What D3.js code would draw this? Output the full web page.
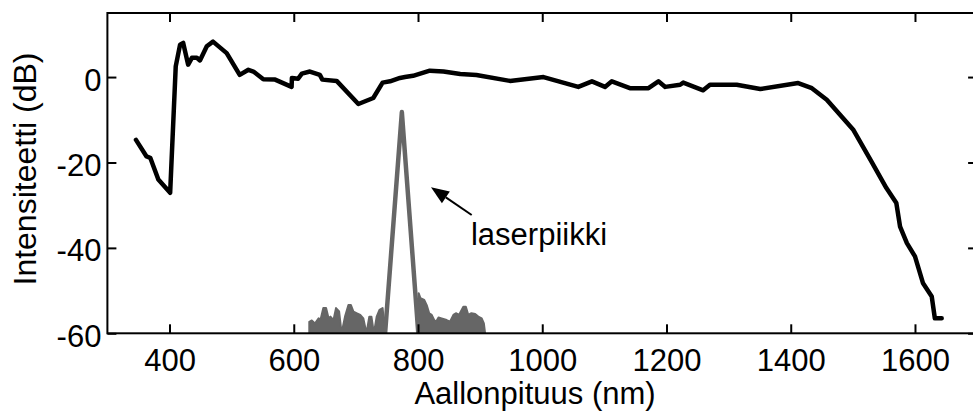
<!DOCTYPE html>
<html>
<head>
<meta charset="utf-8">
<script src="https://cdn.jsdelivr.net/npm/d3@7"></script>
<style>
  html, body { margin: 0; padding: 0; background: #fff; }
  svg { display: block; }
  text { font-family: "Liberation Sans", Arial, Helvetica, sans-serif; fill: #000; }
</style>
</head>
<body>
<svg id="chart" width="973" height="412"></svg>
<script>
// ---- data ----
const xTicks = [400, 600, 800, 1000, 1200, 1400, 1600];
const yTicks = [-60, -40, -20, 0];

// broadband (black) spectrum
const spectrumWl = [346, 363, 369, 382, 401, 410, 417, 422, 430, 436, 444, 449, 460, 470, 492, 513, 527, 535, 551, 570, 596.5, 597, 607, 613, 626, 642, 646, 669, 704, 728, 743, 755, 771, 779, 792, 819, 841, 868, 894, 948, 1002, 1058, 1080, 1101, 1112, 1141, 1171, 1187, 1198, 1222, 1227, 1259, 1270, 1313, 1351, 1412, 1434, 1458, 1501, 1530, 1554, 1570, 1576, 1587, 1600, 1613, 1627, 1632, 1643];
const spectrumDb = [-14.7, -18.6, -18.9, -24, -27.1, 2.5, 7.6, 8, 2.9, 4.5, 4.5, 3.9, 7.2, 8.3, 5.6, 0.5, 1.7, 1.3, -0.5, -0.6, -2.3, -0.2, -0.4, 0.8, 1.3, 0.5, -0.6, -0.9, -6.3, -4.9, -1.3, -1.0, -0.2, 0, 0.3, 1.5, 1.3, 0.7, 0.5, -0.9, 0, -2.3, -1, -2.3, -1, -2.6, -2.6, -1, -2.3, -1.8, -1.3, -3.1, -1.8, -1.8, -2.8, -1.4, -2.6, -5.3, -12.4, -19.8, -26, -29.5, -35, -38.9, -42, -48.3, -51.4, -56.5, -56.5];

// laser peak (gray)
const laserWl = [747, 774, 800.5];
const laserDb = [-60, -8.2, -60];

// gray noise floor around the laser peak (envelope)
const noiseLeftWl = [625, 625, 629, 634, 640, 643, 647.5, 652, 656, 659, 664, 668, 673, 677, 682.5, 688, 692, 696, 701, 707, 712, 717, 721.6, 725, 729, 733.5, 738, 743, 747];
const noiseLeftDb = [-60, -57.3, -57.0, -57.7, -56.5, -56.9, -54.1, -54.1, -56.5, -56.1, -56.9, -54.1, -54.9, -60, -56.1, -53.4, -53.4, -54.9, -55.3, -55.7, -56.5, -60, -56.1, -56.1, -60, -56.1, -54.5, -54.1, -60];
const noiseRightWl = [800.5, 801, 804, 810, 814, 818, 822, 826, 829, 833, 838, 842, 846, 851.5, 857, 861, 866, 873, 877, 881, 886, 892, 897, 902.5, 906, 908];
const noiseRightDb = [-60, -50.6, -51.8, -52.2, -53.4, -55.3, -55.7, -56.9, -57.3, -56.3, -56.5, -56.7, -56.9, -57.3, -55.7, -55.3, -55.7, -53.8, -53.8, -55.7, -55.3, -55.5, -56.1, -56.5, -57.7, -60];

const xLabel = "Aallonpituus (nm)";
const yLabel = "Intensiteetti (dB)";
const annotationText = "laserpiikki";

// ---- layout ----
const svg = d3.select("#chart");
const L = 107.4, R = 977.1, T = 13, B = 333.3;
const x = d3.scaleLinear().domain([300, 1700]).range([L, R]);
const y = d3.scaleLinear().domain([-60, 15]).range([B, T]);
const gray = "#666666";
const FS = 31;
const fmt = d => String(d);

const defs = svg.append("defs");
defs.append("clipPath").attr("id", "plotclip")
  .append("rect").attr("x", L).attr("y", T).attr("width", R - L).attr("height", B - T);

const plot = svg.append("g").attr("clip-path", "url(#plotclip)");

// noise floor
const area = d3.area().x(d => x(d[0])).y0(y(-60)).y1(d => y(d[1])).curve(d3.curveLinear);
const noiseLine = d3.line().x(d => x(d[0])).y(d => y(d[1]));
[[noiseLeftWl, noiseLeftDb], [noiseRightWl, noiseRightDb]].forEach(([wl, db]) => {
  const pts = wl.map((w, i) => [w, db[i]]);
  plot.append("path").attr("d", area(pts)).attr("fill", gray);
  plot.append("path").attr("d", noiseLine(pts)).attr("fill", "none")
    .attr("stroke", gray).attr("stroke-width", 2).attr("stroke-linejoin", "round");
});

// laser peak
const line = d3.line().x(d => x(d[0])).y(d => y(d[1]));
plot.append("path")
  .attr("d", line(laserWl.map((w, i) => [w, laserDb[i]])))
  .attr("fill", "none").attr("stroke", gray).attr("stroke-width", 4.5)
  .attr("stroke-linejoin", "round").attr("stroke-linecap", "round");

// broadband spectrum
plot.append("path")
  .attr("d", line(spectrumWl.map((w, i) => [w, spectrumDb[i]])))
  .attr("fill", "none").attr("stroke", "#000").attr("stroke-width", 4.5)
  .attr("stroke-linejoin", "round").attr("stroke-linecap", "round");

// ---- axes ----
const styleAxis = g => {
  g.select(".domain").remove();
  g.selectAll(".tick line").attr("stroke", "#000").attr("stroke-width", 2);
  g.selectAll(".tick text").attr("font-size", FS).attr("fill", "#000")
    .style("font-family", '"Liberation Sans", Arial, sans-serif');
};
svg.append("g").attr("transform", `translate(0,${B})`)
  .call(d3.axisBottom(x).tickValues(xTicks).tickSizeInner(-9).tickSizeOuter(0).tickPadding(16).tickFormat(fmt))
  .call(styleAxis);
svg.append("g").attr("transform", `translate(0,${T})`)
  .call(d3.axisTop(x).tickValues(xTicks).tickSizeInner(-9).tickSizeOuter(0).tickFormat(""))
  .call(styleAxis);
const yAxisG = svg.append("g").attr("transform", `translate(${L},0)`)
  .call(d3.axisLeft(y).tickValues(yTicks).tickSizeInner(-9).tickSizeOuter(0).tickPadding(6).tickFormat(fmt))
  .call(styleAxis);
yAxisG.selectAll(".tick text").attr("dy", "0.42em");
svg.append("g").attr("transform", `translate(${R},0)`)
  .call(d3.axisRight(y).tickValues(yTicks).tickSizeInner(-9).tickSizeOuter(0).tickFormat(""))
  .call(styleAxis);

// frame
svg.append("rect").attr("x", L).attr("y", T).attr("width", R - L).attr("height", B - T)
  .attr("fill", "none").attr("stroke", "#000").attr("stroke-width", 2);

// axis labels
svg.append("text").attr("x", 535).attr("y", 404).attr("text-anchor", "middle")
  .attr("font-size", FS).text(xLabel);
svg.append("text").attr("transform", "translate(35.5,169) rotate(-90)")
  .attr("text-anchor", "middle").attr("font-size", 32).text(yLabel);

// annotation arrow
const tip = [x(820.9), y(-25.8)], tail = [x(886.4), y(-32.3)];
const dx = tip[0] - tail[0], dy = tip[1] - tail[1], len = Math.hypot(dx, dy);
const ux = dx / len, uy = dy / len, hl = 18, hw = 7;
const bx = tip[0] - hl * ux, by = tip[1] - hl * uy;
svg.append("line").attr("x1", tail[0]).attr("y1", tail[1]).attr("x2", bx).attr("y2", by)
  .attr("stroke", "#000").attr("stroke-width", 2);
svg.append("path")
  .attr("d", `M${tip[0]},${tip[1]}L${bx + hw * uy},${by - hw * ux}L${bx - hw * uy},${by + hw * ux}Z`)
  .attr("fill", "#000");
svg.append("text").attr("x", x(885.3)).attr("y", y(-39.3)).attr("font-size", FS).text(annotationText);
</script>
</body>
</html>
